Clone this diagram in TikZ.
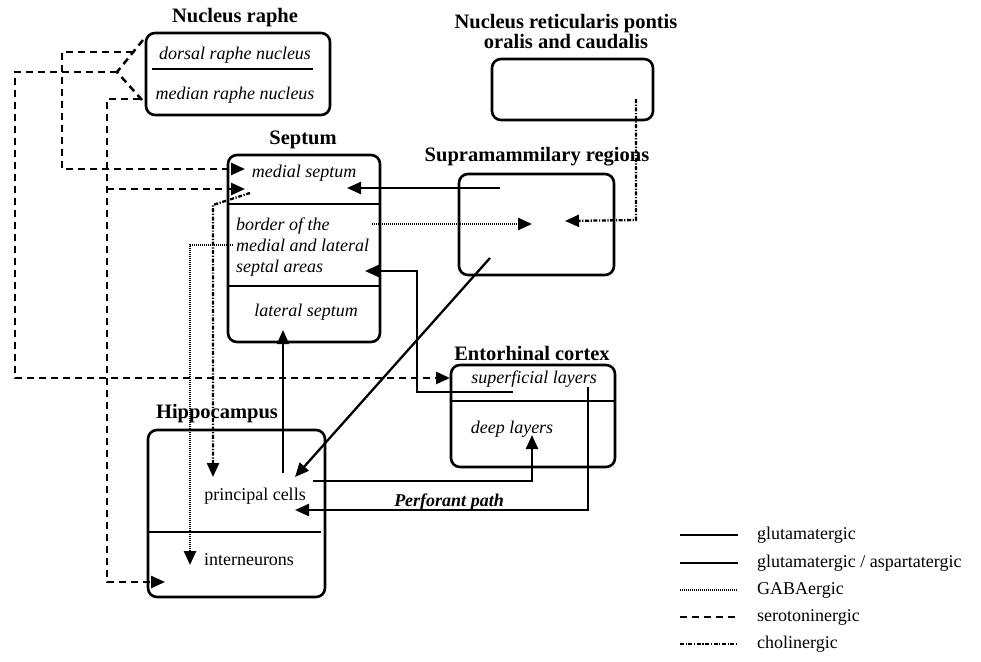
\documentclass[tikz,border=0pt]{standalone}
\usepackage{fontspec}
\setmainfont{Liberation Serif}
\usetikzlibrary{arrows.meta}
\begin{document}
\begin{tikzpicture}[x=1pt,y=-1pt,
  box/.style={draw,line width=2.6pt,rounded corners=9pt,inner sep=0pt},
  ttl/.style={font=\fontsize{20.5}{23}\selectfont\bfseries,inner sep=0pt},
  lbl/.style={font=\fontsize{18}{21}\selectfont\itshape,inner sep=0pt},
  rlbl/.style={font=\fontsize{18}{21}\selectfont,inner sep=0pt},
  divl/.style={line width=2.4pt},
  tip/.style={-{Triangle[length=14pt,width=12pt]}},
  glu/.style={line width=2.3pt},
  gaba/.style={line width=2.6pt,dash pattern=on 1pt off 1pt},
  sero/.style={line width=2.5pt,dash pattern=on 7pt off 5pt},
  chol/.style={line width=2.3pt,dash pattern=on 4pt off 1.6pt on 1.2pt off 1.6pt},
]
\useasboundingbox (0,0) rectangle (981,661);

% ---------- boxes ----------
\node[box,minimum width=184pt,minimum height=82pt] (raphe) at (238,74) {};
\node[box,minimum width=161pt,minimum height=61pt] (retic) at (572.5,89.5) {};
\node[box,minimum width=155pt,minimum height=101pt] (supra) at (536.5,224.5) {};
\node[box,minimum width=152pt,minimum height=187pt] (septum) at (304,248.5) {};
\node[box,minimum width=164pt,minimum height=102pt] (ento) at (533,416) {};
\node[box,minimum width=177pt,minimum height=167pt] (hippo) at (236.5,513.5) {};

% dividers
\draw[divl] (152,69) -- (313,69);
\draw[divl] (septum.west |- 0,204) -- (septum.east |- 0,204);
\draw[divl] (septum.west |- 0,286) -- (septum.east |- 0,286);
\draw[divl] (ento.west |- 0,401) -- (ento.east |- 0,401);
\draw[divl] (hippo.west |- 0,532) -- (321,532);

% ---------- titles ----------
\node[ttl] (traphe) at (235,18) {Nucleus raphe};
\node[ttl,align=center] (tretic) at (566,32) {Nucleus reticularis pontis\\[-3pt]oralis and caudalis};
\node[ttl] (tsupra) at (537,157) {Supramammilary regions};
\node[ttl] (tseptum) at (303,140) {Septum};
\node[ttl] (tento) at (532,353) {Entorhinal cortex};
\node[ttl] (thippo) at (217,414) {Hippocampus};

% ---------- labels ----------
\node[lbl] (dorsal) at (235,55) {dorsal raphe nucleus};
\node[lbl] (median) at (235,95) {median raphe nucleus};
\node[lbl] (medsep) at (304,173) {medial septum};
\node[lbl,align=left,anchor=west] (border) at (236,247) {border of the\\medial and lateral\\septal areas};
\node[lbl] (latsep) at (306,312) {lateral septum};
\node[lbl] (superf) at (534,379) {superficial layers};
\node[lbl] (deep) at (512,429) {deep layers};
\node[rlbl] (princ) at (255,496) {principal cells};
\node[rlbl] (inter) at (249,560) {interneurons};
\node[font=\fontsize{18}{21}\selectfont\bfseries\itshape,inner sep=0pt] (perf) at (449,502) {Perforant path};

% ---------- connector end points ----------
\coordinate (s1) at (500,188);  \coordinate (e1) at (347,188);
\coordinate (s2) at (513,392);  \coordinate (e2) at (365,271);
\coordinate (s3) at (283,473);  \coordinate (e3) at (283,330);
\coordinate (s4) at (490,258);  \coordinate (e4) at (295,477);
\coordinate (s5) at (313,481);  \coordinate (e5) at (532,435);
\coordinate (s6) at (588,387);  \coordinate (e6) at (295,510);
\coordinate (s7) at (372,224);  \coordinate (e7) at (532,224);
\coordinate (s8) at (233,245);  \coordinate (e8) at (190,565);
\coordinate (s9) at (636,99);   \coordinate (e9) at (565,221);
\coordinate (s10) at (250,193); \coordinate (e10) at (213,477);
\coordinate (rA) at (143,40);   \coordinate (rJ) at (117,72); \coordinate (rB) at (142,100);
\coordinate (e11) at (450,378);
\coordinate (s12) at (133,52);  \coordinate (e12) at (245,169);
\coordinate (s13) at (140,99);  \coordinate (e13) at (165,582);
\coordinate (b14) at (107,189); \coordinate (e14) at (245,189);

% ---------- glutamatergic ----------
\draw[glu,tip] (s1) -- (e1);
\draw[glu,tip] (s2) -- (417,392) -- (417,271) -- (e2);
\draw[glu,tip] (s3) -- (e3);
\draw[glu,tip] (s4) -- (e4);
\draw[glu,tip] (s5) -- (532,481) -- (e5);
\draw[glu,tip] (s6) -- (588,510) -- (e6);

% ---------- GABAergic ----------
\draw[gaba,tip] (s7) -- (e7);
\draw[gaba,tip] (s8) -- (190,245) -- (e8);

% ---------- cholinergic ----------
\draw[chol,tip] (s9) -- (636,220) -- (e9);
\draw[chol,tip] (s10) -- (213,205) -- (e10);

% ---------- serotoninergic ----------
\draw[sero] (rA) -- (rJ) -- (rB);
\draw[sero,tip] (rJ) -- (15,72) -- (15,378) -- (e11);
\draw[sero,tip] (s12) -- (62,52) -- (62,169) -- (e12);
\draw[sero,tip] (s13) -- (107,99) -- (107,582) -- (e13);
\draw[sero,tip] (b14) -- (e14);

% ---------- legend ----------
\coordinate (l1a) at (680,535); \coordinate (l1b) at (738,535);
\coordinate (l2a) at (680,563); \coordinate (l2b) at (738,563);
\coordinate (l3a) at (680,590); \coordinate (l3b) at (738,590);
\coordinate (l4a) at (680,617); \coordinate (l4b) at (738,617);
\coordinate (l5a) at (680,644); \coordinate (l5b) at (738,644);
\draw[glu] (l1a) -- (l1b);
\draw[glu] (l2a) -- (l2b);
\draw[gaba] (l3a) -- (l3b);
\draw[sero] (l4a) -- (l4b);
\draw[chol] (l5a) -- (l5b);
\node[rlbl,anchor=west] (lg1) at (757,535) {glutamatergic};
\node[rlbl,anchor=west] (lg2) at (757,563) {glutamatergic / aspartatergic};
\node[rlbl,anchor=west] (lg3) at (757,590) {GABAergic};
\node[rlbl,anchor=west] (lg4) at (757,617) {serotoninergic};
\node[rlbl,anchor=west] (lg5) at (757,644) {cholinergic};
\end{tikzpicture}
\end{document}
